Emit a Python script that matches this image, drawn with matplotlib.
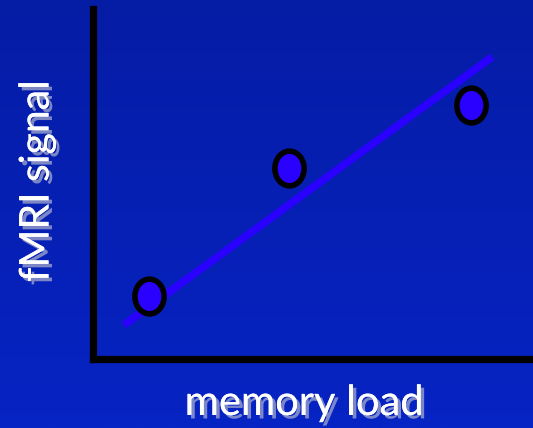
import numpy as np
import matplotlib
matplotlib.use("Agg")
import matplotlib.pyplot as plt
import matplotlib.patheffects as pe
from matplotlib.markers import MarkerStyle
from matplotlib.transforms import Affine2D

# data (arbitrary units)
memory_load = [1.27, 4.45, 8.59]
fmri_signal = [1.80, 5.46, 7.26]
fit_x = [0.70, 9.07]
fit_y = [0.97, 8.63]
xlabel = "memory load"
ylabel = "fMRI signal"

W, H = 533, 428
fig = plt.figure(figsize=(W / 100, H / 100), dpi=100)

# background gradient
bg = fig.add_axes([0, 0, 1, 1], zorder=0)
top = np.array([5, 28, 165]) / 255
bot = np.array([7, 36, 196]) / 255
t = np.linspace(0, 1, 256)[:, None]
grad = top[None, :] * (1 - t) + bot[None, :] * t
bg.imshow(grad[:, None, :], aspect="auto", extent=[0, 1, 0, 1])
bg.set_axis_off()

ax = fig.add_axes([93 / W, (H - 359) / H, (W - 93) / W, 350 / H], zorder=1)
ax.patch.set_alpha(0)
ax.set_xlim(0, 10)
ax.set_ylim(0, 10)
for s in ["top", "right"]:
    ax.spines[s].set_visible(False)
for s in ["left", "bottom"]:
    ax.spines[s].set_linewidth(5.2)
    ax.spines[s].set_color("black")
ax.set_xticks([])
ax.set_yticks([])

ax.plot(fit_x, fit_y, color="#2a00ff", lw=5.5, solid_capstyle="butt", zorder=2)
ax.plot(memory_load, fmri_signal, linestyle="none",
        marker=MarkerStyle("o", transform=Affine2D().scale(0.84, 1.0)), markersize=25,
        markerfacecolor="#2a00ff", markeredgecolor="black", markeredgewidth=4, zorder=3)

shadow = [pe.withSimplePatchShadow(offset=(2.5, -2.5), shadow_rgbFace="#9aa1cc", alpha=0.8), pe.Normal()]
fig.text(304 / W, 1 - 403 / H, xlabel, color="white", fontsize=30, family="Lato",
         ha="center", va="center", path_effects=shadow)
fig.text(37 / W, 1 - 181 / H, ylabel, color="white", fontsize=29.5, family="Lato",
         ha="center", va="center", rotation=90, path_effects=shadow)

fig.savefig("out.png", dpi=100)
